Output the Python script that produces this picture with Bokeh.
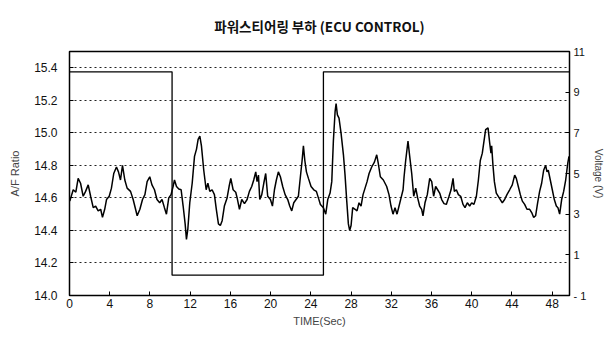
from bokeh.plotting import figure
from bokeh.models import Range1d, LinearAxis, FixedTicker
from bokeh.embed import file_html
from bokeh.resources import INLINE

# ---- data ----
time_s = [0.03, 0.37, 0.63, 0.86, 1.1, 1.36, 1.6, 1.86, 2.1, 2.36,
          2.6, 2.85, 3.1, 3.28, 3.5, 3.68, 3.95, 4.17, 4.4, 4.67,
          4.87, 5.07, 5.27, 5.5, 5.73, 6.07, 6.33, 6.73, 7.0, 7.26,
          7.5, 7.72, 7.98,
          8.2, 8.45, 8.7, 8.97, 9.2, 9.44, 9.64, 9.87, 10.1, 10.3,
          10.44, 10.64, 10.87, 11.1, 11.3, 11.5, 11.63, 11.77, 11.96, 12.2,
          12.43, 12.63, 12.79, 12.96, 13.12, 13.35, 13.59, 13.76, 13.95, 14.18,
          14.41, 14.6, 14.81, 15.0, 15.18, 15.4, 15.67, 15.87, 16.04, 16.27,
          16.53,
          16.67, 16.9, 17.13, 17.4, 17.66, 17.89, 18.12, 18.32, 18.52, 18.65,
          18.79, 18.92, 19.12, 19.32, 19.51, 19.71, 19.98, 20.18, 20.38, 20.57,
          20.77, 20.97, 21.2, 21.44, 21.7, 21.9, 22.1, 22.3, 22.53, 22.76,
          22.96, 23.13, 23.26, 23.4, 23.56, 23.76, 24.02, 24.29, 24.55, 24.75,
          24.95,
          25.25, 25.48, 25.68, 25.91, 26.08, 26.24, 26.41, 26.51, 26.64, 26.8,
          27.0, 27.24, 27.4, 27.57, 27.73, 27.86, 28.0, 28.16, 28.4, 28.59,
          28.79, 28.99, 29.19, 29.39, 29.59, 29.79, 30.05, 30.32, 30.55, 30.71,
          30.91, 31.21, 31.54, 31.77, 31.97, 32.17, 32.37, 32.57, 32.77, 32.97,
          33.17,
          33.27, 33.43, 33.66, 33.83, 34.03, 34.23, 34.43, 34.62, 34.82, 35.02,
          35.15, 35.35, 35.58, 35.82, 36.02, 36.21, 36.41, 36.61, 36.81, 37.01,
          37.24, 37.47, 37.74, 37.94, 38.14, 38.27, 38.47, 38.67, 38.9, 39.13,
          39.33, 39.56, 39.79, 39.99, 40.22, 40.46, 40.66, 40.85, 41.05, 41.22,
          41.38,
          41.62, 41.78, 41.91, 41.98, 42.11, 42.25, 42.44, 42.64, 42.84, 43.04,
          43.27, 43.5, 43.77, 44.03, 44.27, 44.43, 44.63, 44.83, 45.03, 45.26,
          45.49, 45.76, 45.96, 46.16, 46.35, 46.55, 46.75, 46.95, 47.15, 47.35,
          47.48, 47.61, 47.81, 48.01, 48.21, 48.41, 48.57, 48.74, 48.94, 49.14,
          49.34, 49.54, 49.67]

af_ratio = [14.58, 14.65, 14.635, 14.72, 14.69, 14.61, 14.64, 14.68, 14.61, 14.54,
            14.55, 14.52, 14.53, 14.48, 14.53, 14.59, 14.61, 14.66, 14.75, 14.79,
            14.76, 14.71, 14.80, 14.71, 14.66, 14.64, 14.59, 14.49, 14.53, 14.59,
            14.62, 14.70, 14.73,
            14.68, 14.65, 14.59, 14.57, 14.59, 14.54, 14.50, 14.60, 14.62, 14.67,
            14.71, 14.67, 14.655, 14.65, 14.55, 14.44, 14.345, 14.41, 14.57, 14.69,
            14.855, 14.90, 14.96, 14.98, 14.92, 14.77, 14.65, 14.69, 14.64, 14.65,
            14.62, 14.53, 14.44, 14.43, 14.46, 14.55, 14.60, 14.67, 14.72, 14.65,
            14.635,
            14.60, 14.53, 14.59, 14.565, 14.59, 14.64, 14.67, 14.71, 14.76, 14.70,
            14.74, 14.59, 14.62, 14.69, 14.75, 14.61, 14.59, 14.55, 14.65, 14.71,
            14.76, 14.73, 14.67, 14.62, 14.59, 14.55, 14.52, 14.57, 14.59, 14.61,
            14.73, 14.83, 14.92, 14.83, 14.76, 14.72, 14.67, 14.65, 14.64, 14.60,
            14.56,
            14.54, 14.50, 14.59, 14.63, 14.70, 14.95, 15.13, 15.18, 15.11, 15.09,
            15.0, 14.865, 14.74, 14.58, 14.44, 14.40, 14.43, 14.54, 14.53, 14.52,
            14.57, 14.55, 14.62, 14.66, 14.70, 14.75, 14.79, 14.82, 14.865, 14.81,
            14.73, 14.71, 14.67, 14.62, 14.55, 14.50, 14.54, 14.50, 14.55, 14.60,
            14.65,
            14.73, 14.83, 14.95, 14.855, 14.75, 14.61, 14.66, 14.60, 14.55, 14.53,
            14.49, 14.57, 14.62, 14.72, 14.70, 14.61, 14.67, 14.65, 14.63, 14.59,
            14.565, 14.56, 14.61, 14.65, 14.72, 14.64, 14.65, 14.62, 14.61, 14.56,
            14.54, 14.57, 14.55, 14.57, 14.56, 14.61, 14.71, 14.83, 14.875, 14.95,
            15.02,
            15.03, 14.94, 14.875, 14.92, 14.80, 14.70, 14.63, 14.61, 14.59, 14.57,
            14.59, 14.62, 14.65, 14.68, 14.74, 14.72, 14.67, 14.62, 14.58, 14.56,
            14.53, 14.53, 14.51, 14.48, 14.49, 14.57, 14.64, 14.69, 14.77, 14.80,
            14.76, 14.77, 14.71, 14.65, 14.59, 14.55, 14.54, 14.50, 14.59, 14.64,
            14.71, 14.81, 14.855]

step_time = [0.0, 10.2, 10.2, 25.25, 25.25, 49.72]
step_volt = [10, 10, 0, 0, 10, 10]

x_ticks = [0, 4, 8, 12, 16, 20, 24, 28, 32, 36, 40, 44, 48]
af_ticks = [14.0, 14.2, 14.4, 14.6, 14.8, 15.0, 15.2, 15.4]
volt_ticks = [-1, 1, 3, 5, 7, 9, 11]

title_text = "파워스티어링 부하 (ECU CONTROL)"
x_label = "TIME(Sec)"
y_label = "A/F Ratio"
y2_label = "Voltage (V)"

FONT = "Liberation Sans"

p = figure(frame_width=500, frame_height=244, output_backend="svg", toolbar_location=None,
           x_range=Range1d(0, 49.72), y_range=Range1d(14.0, 15.5),
           min_border_left=69, min_border_right=31, min_border_top=51,
           min_border_bottom=33, background_fill_color="white",
           border_fill_color="white")

p.title.text = title_text
p.title.text_font = "Noto Sans CJK KR"
p.title.text_font_size = "13.5px"
p.title.text_font_style = "bold"
p.title.align = "center"
p.title.vertical_align = "top"
p.title.standoff = 28
p.title.text_color = "#111111"

p.outline_line_color = "black"
p.outline_line_width = 1.5

p.extra_y_ranges = {"volt": Range1d(-1, 11)}

# grids
p.xgrid.visible = False
p.ygrid.ticker = FixedTicker(ticks=af_ticks)
p.ygrid.grid_line_color = "#222222"
p.ygrid.grid_line_dash = "2 3"
p.ygrid.grid_line_width = 1

# left axis
ya = p.yaxis[0]
ya.ticker = FixedTicker(ticks=af_ticks)
ya.major_label_overrides = {t: f"{t:.1f}" for t in af_ticks}
ya.major_label_text_font = FONT
ya.major_label_text_font_size = "12px"
ya.major_label_text_color = "#111111"
ya.major_label_standoff = 12
ya.major_tick_in = 4
ya.major_tick_out = 0
ya.minor_tick_line_color = None
ya.axis_line_color = None
ya.axis_label = y_label
ya.axis_label_text_font = FONT
ya.axis_label_text_font_size = "11px"
ya.axis_label_text_font_style = "normal"
ya.axis_label_standoff = 10

# bottom axis
xa = p.xaxis[0]
xa.ticker = FixedTicker(ticks=x_ticks)
xa.major_label_text_font = FONT
xa.major_label_text_font_size = "12px"
xa.major_label_text_color = "#111111"
xa.major_label_standoff = 3
xa.major_tick_in = 4
xa.major_tick_out = 0
xa.minor_tick_line_color = None
xa.axis_line_color = None
xa.axis_label = x_label
xa.axis_label_text_font = FONT
xa.axis_label_text_font_size = "11px"
xa.axis_label_text_font_style = "normal"
xa.axis_label_standoff = 4

# right axis
ra = LinearAxis(y_range_name="volt", ticker=FixedTicker(ticks=volt_ticks))
ra.major_label_overrides = {-1: "- 1"}
ra.major_label_text_font = FONT
ra.major_label_text_font_size = "11px"
ra.major_label_text_color = "#111111"
ra.major_label_standoff = 4
ra.major_tick_in = 4
ra.major_tick_out = 0
ra.minor_tick_line_color = None
ra.axis_line_color = None
ra.axis_label = y2_label
ra.axis_label_text_font = FONT
ra.axis_label_text_font_size = "10px"
ra.axis_label_text_font_style = "normal"
ra.axis_label_standoff = 4
p.add_layout(ra, "right")

# data lines
p.line(step_time, step_volt, y_range_name="volt", line_color="black", line_width=1.3)
p.line(time_s, af_ratio, line_color="black", line_width=1.5)

open("out.html", "w").write(file_html(p, INLINE))
